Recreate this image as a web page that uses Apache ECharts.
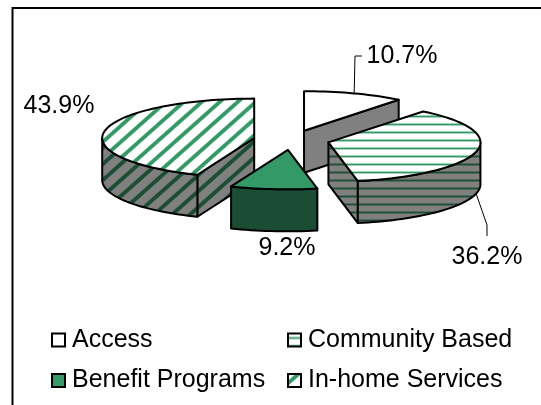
<!DOCTYPE html>
<html>
<head>
<meta charset="utf-8">
<style>html,body{margin:0;padding:0;background:#fff}#chart{width:541px;height:405px}</style>
<script src="https://cdn.jsdelivr.net/npm/echarts@6/dist/echarts.min.js"></script>
</head>
<body>
<div id="chart"></div>
<script>
// Program budget shares, drawn clockwise from twelve o'clock
const categories = ['Access', 'Community Based', 'Benefit Programs', 'In-home Services'];
const shares = [10.7, 36.2, 9.2, 43.9];
const legendColumns = [['Access', 'Benefit Programs'], ['Community Based', 'In-home Services']];

// Projection of the tilted pie
const pie = { cx: 291.5, cy: 140, rx: 152, ry: 39.5, depth: 42, explode: 0.25 };
const font = 'Liberation Sans, Arial, sans-serif';
const labelSize = 25;
const total = shares.reduce((a, b) => a + b, 0);

const hexToRgb = h => [1, 3, 5].map(i => parseInt(h.substr(i, 2), 16));

// Builds a repeating hatch tile; coverage(x, y) gives the ink amount for a pixel
function tile(w, h, bg, fg, coverage) {
  const c = document.createElement('canvas');
  c.width = w; c.height = h;
  const g = c.getContext('2d');
  const B = hexToRgb(bg), F = hexToRgb(fg);
  for (let y = 0; y < h; y++) {
    for (let x = 0; x < w; x++) {
      const t = coverage(x, y);
      const m = B.map((v, i) => Math.round(v + (F[i] - v) * t));
      g.fillStyle = `rgb(${m[0]},${m[1]},${m[2]})`;
      g.fillRect(x, y, 1, 1);
    }
  }
  return { image: c, repeat: 'repeat' };
}

function rows(y) {
  const d = Math.abs(((y - 4) % 8 + 8) % 8);
  return d === 0 ? 1 : (d === 1 || d === 7) ? 0.45 : 0;
}
// Soft-edged stripes rising to the right, one per 18 x 16 pixel tile
const diagonal = phase => (x, y) => {
  const p = ((x * 16 / 18 + y - phase) % 16 + 16) % 16;
  const d = Math.min(p, 16 - p);
  return Math.max(0, Math.min(1, (3.4 - d) / 1.6));
};

const fills = {
  'Access': { top: '#ffffff', side: '#808080' },
  'Community Based': {
    top: tile(8, 8, '#ffffff', '#339966', (x, y) => rows(y)),
    side: tile(8, 8, '#808080', '#1a4d33', (x, y) => rows(y))
  },
  'Benefit Programs': { top: '#339966', side: '#1a4d33' },
  'In-home Services': {
    top: tile(18, 16, '#ffffff', '#339966', diagonal(8.3)),
    side: tile(18, 16, '#808080', '#1a4d33', diagonal(14.5))
  }
};

// Where each value label sits, and the elbow of its leader when it has one
const labelLayout = {
  'Access': { x: 402, y: 56, leader: [[355, 56], [362, 56]] },
  'Community Based': { x: 487, y: 257, leader: [[487, 225], [487, 236]] },
  'Benefit Programs': { x: 287, y: 248 },
  'In-home Services': { x: 59, y: 106 }
};

const rad = d => d * Math.PI / 180;
const outline = { stroke: '#000', lineWidth: 2, lineJoin: 'round' };

function renderSlice(params, api) {
  const name = categories[sliceOrder[params.seriesIndex]];
  const idx = categories.indexOf(name);
  const value = api.value(0);
  const before = shares.slice(0, idx).reduce((a, b) => a + b, 0);
  const a0 = before / total * 360;
  const a1 = a0 + value / total * 360;
  const mid = (a0 + a1) / 2;
  const ox = pie.cx + pie.explode * pie.rx * Math.sin(rad(mid));
  const oy = pie.cy - pie.explode * pie.ry * Math.cos(rad(mid));
  const rim = a => [ox + pie.rx * Math.sin(rad(a)), oy - pie.ry * Math.cos(rad(a))];
  const drop = p => [p[0], p[1] + pie.depth];
  const apex = [ox, oy];
  const arc = (s, e) => {
    const pts = [];
    const n = Math.max(2, Math.ceil((e - s) / 2));
    for (let i = 0; i <= n; i++) pts.push(rim(s + (e - s) * i / n));
    return pts;
  };
  const f = fills[name];
  const wall = pts => ({
    type: 'polygon', shape: { points: pts },
    style: Object.assign({ fill: f.side }, outline)
  });
  const children = [];
  const sinA0 = Math.sin(rad(a0)), sinA1 = Math.sin(rad(a1));
  // Radial faces are only seen when they turn towards the viewer
  if (sinA0 < -1e-9) children.push(wall([apex, rim(a0), drop(rim(a0)), drop(apex)]));
  if (sinA1 > 1e-9) children.push(wall([apex, rim(a1), drop(rim(a1)), drop(apex)]));
  // Outer rim of the front half
  const fs = Math.max(a0, 90), fe = Math.min(a1, 270);
  if (fe > fs) {
    const edge = arc(fs, fe);
    children.push(wall(edge.concat(edge.map(drop).reverse())));
  }
  children.push({
    type: 'polygon',
    shape: { points: [apex].concat(arc(a0, a1)) },
    style: Object.assign({ fill: f.top }, outline)
  });

  const lay = labelLayout[name];
  if (lay.leader) {
    const from = a => [rim(a)[0], rim(a)[1] + (a > 90 && a < 270 ? pie.depth : 0)];
    children.push({
      type: 'polyline',
      shape: { points: [from(mid)].concat(lay.leader) },
      style: { stroke: '#000', lineWidth: 1, fill: 'none' }
    });
  }
  children.push({
    type: 'text',
    style: {
      text: value.toFixed(1) + '%', x: lay.x, y: lay.y,
      align: 'center', verticalAlign: 'middle',
      font: labelSize + 'px ' + font, fill: '#000'
    }
  });
  return { type: 'group', children };
}

// Back slices first so the nearer wedges overlap them
const sliceOrder = [0, 3, 1, 2];

const legendBase = {
  orient: 'vertical', itemWidth: 13, itemHeight: 13, itemGap: 12.5,
  icon: 'rect', selectedMode: false, padding: 0,
  textStyle: { fontFamily: font, fontSize: labelSize, color: '#000', padding: [0, 0, 0, 2], lineHeight: 28 }
};
const legendEntry = name => ({
  name,
  itemStyle: {
    color: fills[name].top, borderColor: '#000', borderWidth: 2, opacity: 1,
    decal: 'none'
  }
});

const chart = echarts.init(document.getElementById('chart'), null, { renderer: 'canvas' });
chart.setOption({
  animation: false,
  backgroundColor: '#fff',
  legend: [
    Object.assign({}, legendBase, { left: 51, top: 326, data: legendColumns[0].map(legendEntry) }),
    Object.assign({}, legendBase, { left: 287, top: 326, data: legendColumns[1].map(legendEntry) })
  ],
  graphic: [
    { type: 'polyline', silent: true, shape: { points: [[12.5, 405], [12.5, 8], [541, 8]] },
      style: { stroke: '#000', lineWidth: 2, fill: 'none' } }
  ],
  series: sliceOrder.map(i => ({
    type: 'custom',
    name: categories[i],
    coordinateSystem: 'none',
    renderItem: renderSlice,
    silent: true,
    data: [[shares[i]]],
    itemStyle: { color: '#339966' }
  }))
});
</script>
</body>
</html>
